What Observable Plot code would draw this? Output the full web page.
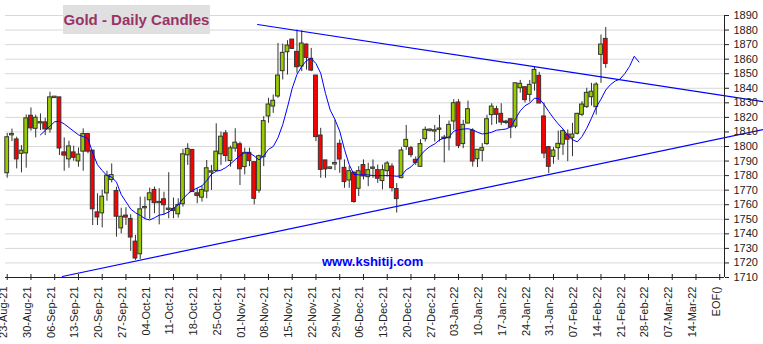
<!DOCTYPE html>
<html><head><meta charset="utf-8">
<script src="https://cdn.jsdelivr.net/npm/d3@7"></script>
<script src="https://cdn.jsdelivr.net/npm/@observablehq/plot@0.6"></script>
<style>
body{margin:0;background:#fff;}
#wrap{position:relative;width:763px;height:344px;overflow:hidden;font-family:"Liberation Sans",Arial,sans-serif;}
#title{position:absolute;left:63px;top:5px;width:147px;height:29px;background:#e0e0e0;color:#993366;font-weight:bold;font-size:15px;line-height:29px;text-align:center;}
#wm{position:absolute;left:322px;top:254px;color:#0000ff;font-weight:bold;font-size:13px;}
</style></head><body>
<div id="wrap"><div id="chart"></div><div id="title">Gold - Daily Candles</div><div id="wm">www.kshitij.com</div></div>
<script>
const weekLabels = ["23-Aug-21","30-Aug-21","06-Sep-21","13-Sep-21","20-Sep-21","27-Sep-21","04-Oct-21","11-Oct-21","18-Oct-21","25-Oct-21","01-Nov-21","08-Nov-21","15-Nov-21","22-Nov-21","29-Nov-21","06-Dec-21","13-Dec-21","20-Dec-21","27-Dec-21","03-Jan-22","10-Jan-22","17-Jan-22","24-Jan-22","31-Jan-22","07-Feb-22","14-Feb-22","21-Feb-22","28-Feb-22","07-Mar-22","14-Mar-22","EOF()"];
const daysPerWeek = 5;
const yTicks = [1710,1720,1730,1740,1750,1760,1770,1780,1790,1800,1810,1820,1830,1840,1850,1860,1870,1880,1890];

const opens = [1782,1808,1804.5,1795.3,1795.6,1820.8,1812.5,1816.2,1816.2,1812.1,
1833.6,1833.4,1795.6,1791.5,1795.6,1790.1,1796.8,1808.2,1796.8,1754.4,
1754.4,1768.1,1777.3,1769.1,1744.1,1752.2,1749.9,1734.3,1726.3,1757.9,
1763.4,1769.8,1761.4,1763.4,1756.8,1756.8,1753.8,1760.7,1794.3,1797.3,
1767.5,1765.2,1769.4,1782.4,1783.6,1795,1808.7,1790.4,1798.9,1801.2,
1786.2,1795.3,1788.9,1770,1793,1821,1827.8,1834.7,1852.1,1865.1,
1873.1,1864.7,1855.3,1869.7,1859.9,1848.4,1807.2,1790.1,1785,1788,
1801.5,1785,1777,1781.6,1771.3,1786.9,1779.3,1785,1783.4,1776.6,
1783.4,1785.9,1770.4,1778.6,1800.1,1798.5,1790.5,1786.4,1805.4,1811.1,
1810.6,1811.8,1805.8,1806,1817.5,1829.9,1802,1816.1,1810.4,1791.6,
1797.4,1802,1821.9,1825.3,1822.1,1816.8,1818.4,1814,1840.4,1840.4,
1835.8,1843.6,1848.2,1820.3,1799.2,1793.2,1799.2,1801.7,1807.9,1806.3,
1809.1,1822.1,1827.4,1834.2,1827.4,1863.3,1873.6];
const highs = [1809,1812,1806.4,1800.6,1821.7,1826.5,1821.5,1822.4,1819.4,1837.3,
1834.2,1833.8,1805.9,1803.6,1800.2,1799,1812.1,1809,1797,1767.5,
1770,1783,1788,1772,1757.6,1757.9,1753.1,1738.9,1765.2,1765.2,
1771.4,1772.1,1771,1768.6,1782,1764.6,1764.1,1798,1801.9,1797.5,
1771,1772.8,1790.4,1787,1815.6,1809.9,1811,1800.2,1812.2,1803,
1798.8,1798.8,1789,1794.1,1820.5,1833.1,1835.4,1870.8,1870.4,1872.7,
1873.6,1880,1879.5,1870.4,1867.4,1848.4,1812.5,1790.1,1786,1818.2,
1804.5,1790.8,1786.2,1782.7,1786.2,1790.8,1788.5,1790.8,1787.3,1787.3,
1789.6,1788.2,1774.5,1799.2,1814.5,1800.1,1792.8,1804.7,1813.4,1812,
1814.5,1821.4,1807.7,1817.5,1832.2,1832.2,1818,1831.2,1812.2,1797.8,
1802,1821.4,1829.4,1827.6,1829.4,1818,1819.1,1843.6,1845.4,1840.8,
1845.4,1854.5,1851,1829.9,1800.1,1799.2,1810.6,1811.6,1811.4,1815.9,
1822.8,1830.8,1840,1843.4,1843.8,1876.6,1881.8];
const lows = [1778.2,1803.4,1784.6,1781.9,1785.1,1810.5,1805.9,1811,1807.5,1809.2,
1833.5,1793.8,1783,1785.1,1789.9,1785.8,1783,1795,1745.7,1745.7,
1744.1,1762.4,1775,1737.7,1740,1745.8,1727.9,1721.8,1722.4,1750.4,
1750,1753.8,1746.2,1752.7,1750.4,1750.4,1750.8,1758.4,1787,1768.7,
1760.7,1761.8,1764.1,1769.8,1782.9,1787,1789.3,1785.8,1796.1,1773.2,
1780.5,1786.2,1759.9,1767.9,1786.2,1815.9,1822.8,1833.1,1845.7,1849.1,
1866.7,1850.3,1851.4,1852.5,1851.4,1803.3,1778.2,1778.2,1784,1783.4,
1781.6,1771.3,1771.3,1761,1765.6,1777,1772.4,1778.2,1774.7,1770.2,
1779,1768.8,1754.3,1777.9,1797.4,1792.3,1787,1785.9,1803.1,1810,
1803.1,1803.1,1788.7,1796.9,1811.1,1798.5,1798.5,1815.7,1785.9,1785.5,
1789.4,1800.8,1814.5,1815.2,1814.5,1815,1805.4,1812.2,1836.7,1829.9,
1830.5,1838,1829.4,1791.6,1781.4,1787.8,1790.5,1793.9,1789.6,1793,
1807.9,1820.5,1826.2,1827.8,1821.6,1843.4,1853.7];
const closes = [1806,1808.3,1791.5,1796.8,1819,1812.8,1819.4,1816.4,1812.1,1833.4,
1833.9,1799,1794.1,1799.7,1792.6,1794.1,1808.2,1796.8,1757.2,1751.6,
1765.2,1779.6,1780,1752.1,1751.4,1751.5,1737.8,1723.4,1756.5,1758.1,
1767.5,1761.4,1761.6,1760,1757,1756,1759.5,1794.3,1798,1769.1,
1766.4,1769.8,1784.7,1782.6,1796.1,1806.4,1793.8,1798.4,1802.3,1784.7,
1795.3,1790.3,1764.4,1793,1817.1,1828.5,1831.1,1848.4,1864,1869,
1867.4,1854.8,1870.4,1861.2,1852.5,1806.8,1784.3,1784.6,1785.3,1788.3,
1791.4,1775.9,1782.7,1762.2,1782.7,1779.8,1783.4,1785.2,1778.2,1783.4,
1788,1771.7,1764.2,1796.9,1804.2,1794.4,1789.1,1801.3,1811.1,1811.3,
1810.8,1812,1805.6,1814.5,1829.4,1800.8,1814.5,1825.3,1790,1797.4,
1798.5,1818.4,1827.1,1822.1,1816.8,1816.5,1813.4,1843.1,1842.7,1832.2,
1842,1852.3,1829.9,1795.5,1786.4,1796.9,1801.5,1810.2,1805,1807.9,
1822.1,1828.5,1836.5,1837.3,1842.2,1869.7,1857.1];

const maStartDay = 7;
const maValues = [1808,1811,1814,1817,1817.3,1815.5,1813,1810.5,1808,1806.8,
1805.5,1795.5,1787.5,1783.5,1780,1779,1775.5,1767,1762,1757,
1754.5,1752.7,1750.4,1749.5,1751,1752.8,1753.5,1755,1757.5,1760,
1764,1767.5,1769.8,1771.5,1773,1776.5,1781,1783,1783.7,1785.5,
1788,1791,1793.8,1795.6,1795.5,1793.5,1790.8,1793.5,1798,1800,
1806,1815,1827,1840,1849.5,1855,1859,1860.5,1857,1850.3,
1836.5,1825,1818.5,1810.5,1798,1787.5,1780.8,1780.5,1780.5,1780.5,
1780,1780,1780,1780,1780,1779.5,1780,1784,1786,1789.4,
1793.9,1797.5,1800,1801.8,1804.5,1805.8,1806.5,1810.5,1811.5,1812,
1812.2,1811.5,1809.8,1808.6,1809,1809.8,1811.2,1811.6,1812,1813.5,
1819,1824.5,1828,1829.8,1833.2,1832.8,1829,1824,1819.5,1815.5,
1812,1807.5,1804.7,1803.2,1806.8,1812.5,1819.5,1827,1832.5,1838.8,
1842.5,1845,1846.3,1850,1855,1862,1858];

const upperTrendDays = [52.7, 159.2];
const upperTrendPrices = [1883.8, 1830.8];
const lowerTrendDays = [11.6, 159.2];
const lowerTrendPrices = [1710.7, 1811.7];

const xDomain = [-0.36, 151];

const candles = opens.map((o, i) => ({day: i, open: o, high: highs[i], low: lows[i], close: closes[i]}));
const ma = maValues.map((v, k) => ({day: maStartDay + k, value: v}));
const upper = upperTrendDays.map((d, k) => ({day: d, price: upperTrendPrices[k]}));
const lower = lowerTrendDays.map((d, k) => ({day: d, price: lowerTrendPrices[k]}));
const tickDays = weekLabels.map((_, k) => k * daysPerWeek);
const yMin = yTicks[0], yMax = yTicks[yTicks.length - 1];

const chart = Plot.plot({
  width: 763, height: 344,
  marginLeft: 5, marginRight: 39, marginTop: 15, marginBottom: 67,
  x: {domain: xDomain, axis: null, label: null},
  y: {domain: [yMin, yMax], axis: null, label: null},
  style: {fontFamily: "'Liberation Sans', Arial, sans-serif", fontSize: "11px", background: "#fff", color: "#222"},
  marks: [
    Plot.gridY({ticks: yTicks, stroke: "#d8d8d8", strokeOpacity: 1, strokeWidth: 1}),
    Plot.ruleX(candles, {x: "day", y1: "low", y2: "high", stroke: "#333", strokeWidth: 1}),
    Plot.rect(candles, {x1: d => d.day - 0.4, x2: d => d.day + 0.4, y1: "open", y2: "close",
      fill: d => d.close >= d.open ? "#99cc00" : "#ff0000", stroke: "#333", strokeWidth: 1,
      insetTop: -0.5, insetBottom: -0.5}),
    Plot.line(ma, {x: "day", y: "value", stroke: "#0000ff", strokeWidth: 1}),
    Plot.line(upper, {x: "day", y: "price", stroke: "#0000ff", strokeWidth: 1.2}),
    Plot.line(lower, {x: "day", y: "price", stroke: "#0000ff", strokeWidth: 1.2}),
    Plot.ruleY([yMin], {stroke: "#222"}),
    Plot.ruleX([xDomain[1]], {y1: yMin, y2: yMax, stroke: "#222"}),
    Plot.axisY({anchor: "right", ticks: yTicks, tickSize: 4, tickPadding: 5, fontSize: 11, stroke: "#222", fill: "#222",
      tickFormat: d => String(d), label: null}),
    Plot.axisX({anchor: "bottom", ticks: tickDays, tickSize: 3, tickFormat: () => "", stroke: "#222", label: null}),
    Plot.axisX({anchor: "bottom", ticks: tickDays, tickSize: -3, tickFormat: () => "", stroke: "#222", label: null}),
    Plot.text(tickDays, {x: d => d, frameAnchor: "bottom", text: (d, i) => weekLabels[i], rotate: -90,
      textAnchor: "end", dy: 9, fontSize: 11, fill: "#222"})
  ]
});
document.getElementById("chart").appendChild(chart);
</script>
</body></html>
